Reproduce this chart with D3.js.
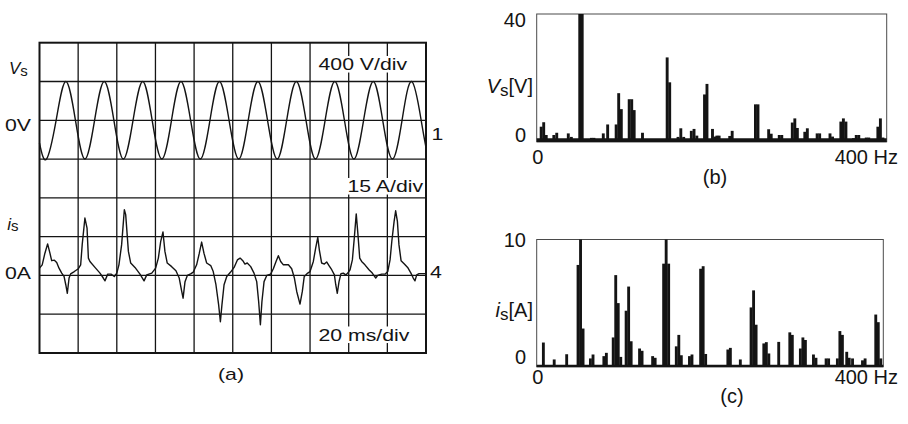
<!DOCTYPE html>
<html><head><meta charset="utf-8">
<script src="https://cdn.jsdelivr.net/npm/d3@7"></script>
<style>
body{margin:0;background:#fff}
svg{display:block}
text{font-family:"Liberation Sans",Arial,Helvetica,sans-serif}
</style>
</head><body>
<svg id="chart" width="908" height="424"></svg>
<script>
// ---------- DATA ----------
const gridTimes = [0,20,40,60,80,100,120,140,160,180,200];   // ms, 20 ms/div
const gridDivs  = [0,1,2,3,4,5,6,7,8];

// Supply voltage Vs (V) read at peaks, troughs and zero crossings
const voltTimes  = [0,3.6,8.6,13.6,18.6,23.5,28.5,33.5,38.5,43.4,48.4,53.4,58.3,63.3,68.3,73.2,78.2,83.2,88.2,93.1,98.1,103.1,108.0,113.0,118.0,123.0,127.9,132.9,137.9,142.8,147.8,152.8,157.8,162.7,167.7,172.7,177.6,182.6,187.6,192.6,197.5,200];
const voltValues = [-235,-400,0,400,0,-400,0,400,0,-400,0,400,0,-400,0,400,0,-400,0,400,0,-400,0,400,0,-400,0,400,0,-400,0,400,0,-400,0,400,0,-400,0,400,0,-283];

// Supply current is (A), [ms, A]
const currentTrace = [[0,2.8],[1.4,4.1],[2.8,8.6],[4.2,12.2],[5.4,8.6],[6.3,5.7],[7.7,5.9],[8.9,5.0],[10.1,2.8],[11.5,0.9],[12.7,-0.4],[13.6,-3.6],[14.4,-6.9],[15.3,-1.0],[16.1,0.6],[18.0,1.5],[20.1,2.6],[21.3,4.1],[22.1,11.9],[23.5,22.2],[24.6,18.3],[25.3,6.7],[26.1,5.4],[28.7,3.1],[31.3,0.9],[33.0,-1.0],[33.9,-2.1],[35.3,0.5],[37.0,0.5],[38.7,-0.4],[40.0,0.9],[41.1,4.1],[42.5,11.9],[43.9,25.4],[44.6,23.5],[46.0,9.3],[47.2,4.8],[49.4,3.1],[52.0,0.5],[54.1,-2.1],[55.5,0.2],[58.1,0.9],[60.1,2.8],[61.5,6.7],[62.7,13.1],[63.9,16.8],[64.9,9.3],[66.1,4.8],[68.4,3.4],[70.6,1.8],[72.3,-1.0],[73.6,-6.2],[74.3,-8.8],[75.3,-2.4],[76.5,0.0],[78.2,0.6],[79.6,1.3],[81.3,4.1],[82.7,8.6],[83.9,12.9],[85.1,8.6],[86.5,4.8],[88.6,3.8],[89.9,1.5],[91.3,-3.6],[92.7,-11.4],[93.6,-17.9],[94.4,-11.4],[95.5,-3.6],[96.9,-0.4],[98.9,1.3],[100.7,3.1],[102.4,6.0],[103.8,6.7],[105.2,5.7],[106.3,4.4],[107.5,4.8],[109.3,3.4],[111.0,0.9],[112.4,-2.4],[113.4,-10.1],[114.3,-19.1],[115.1,-10.1],[116.2,-2.4],[117.6,0.0],[119.6,0.5],[121.0,2.6],[122.4,5.4],[123.6,7.6],[124.8,5.4],[126.2,4.1],[128.8,4.1],[130.5,2.6],[131.9,-1.0],[133.1,-6.2],[134.8,-11.1],[136.0,-6.2],[137.0,-0.4],[138.8,0.9],[140.0,1.5],[141.7,5.4],[142.9,10.6],[144.0,14.7],[144.8,9.9],[146.0,4.8],[147.4,4.4],[148.6,5.2],[149.8,3.8],[151.2,2.2],[152.6,0.2],[153.3,-3.6],[154.1,-6.9],[155.0,-2.4],[156.0,0.7],[157.2,0.9],[158.5,0.2],[159.5,0.9],[160.7,2.2],[161.9,6.0],[162.9,14.5],[163.9,23.8],[164.8,15.7],[165.7,6.7],[166.7,5.4],[168.4,4.1],[170.5,2.2],[172.2,0.9],[174.0,-1.0],[175.0,0.0],[177.1,0.5],[178.8,0.5],[180.2,1.5],[181.4,6.0],[182.3,13.1],[183.5,20.9],[184.3,25.0],[185.2,20.9],[186.0,11.9],[187.1,5.7],[188.8,4.4],[190.5,3.1],[192.2,0.9],[193.4,-1.0],[194.3,-2.1],[195.2,0.2],[196.4,0.7],[198.6,0.7],[200,0.7]];

// Spectrum of Vs (b)
const specVFreq = [5.1,8.0,10.9,19.6,22.9,36.1,39.6,49.2,52.0,62.5,65.4,76.1,81.1,90.8,93.7,96.7,105.7,108.6,111.4,120.9,149.1,152.0,161.5,164.7,168.0,176.7,179.8,183.0,191.8,194.6,200.9,203.8,205.9,208.5,220.6,223.4,250.0,252.9,265.1,268.0,277.2,280.1,292.1,295.0,297.9,306.4,309.3,320.5,323.4,335.2,338.1,347.6,350.5,353.4,362.0,365.2,368.1,376.6,379.5,389.9,392.8,395.7];
const specVAmp  = [4.7,6.1,2.1,2.1,2.8,2.6,1.5,40,40,1.2,1.2,2.6,5.4,5.4,15.2,10.2,13.3,13.3,9.9,2.8,26.4,18.6,1.5,4.2,1.5,3.4,4.0,1.9,14.8,18.1,4.0,1.6,1.9,1.9,1.8,3.4,11.7,11.7,3.9,2.5,2.1,2.1,6.0,7.3,4.3,3.1,4.2,2.6,2.6,2.6,1.6,6.3,7.3,6.3,1.1,2.1,2.1,1.3,1.3,4.7,7.3,1.3];

// Spectrum of is (c)
const specIFreq = [7.7,20.2,34.6,47.7,50.6,53.5,62.0,65.0,77.5,80.4,88.3,91.2,94.1,97.0,103.2,106.1,109.0,118.7,121.6,133.8,136.7,146.5,149.4,152.3,161.1,164.0,166.9,176.3,179.2,189.2,192.1,195.0,220.6,223.5,235.0,247.4,250.3,253.2,262.1,265.0,267.9,279.3,292.1,295.0,304.3,307.2,310.1,319.4,322.3,334.0,336.9,347.0,349.9,352.8,357.8,360.7,364.5,376.0,379.0,391.3,394.2,397.1];
const specIAmp  = [1.9,0.57,0.98,8.0,10,3.0,0.65,0.96,0.83,1.09,2.3,7.2,5.0,0.77,4.4,6.3,2.0,1.43,1.25,0.83,0.7,8.1,10,8.1,1.6,2.5,0.9,0.83,0.96,7.7,7.9,1.0,1.35,1.48,0.57,4.66,6.0,3.3,1.83,1.93,1.04,1.95,2.7,2.5,1.43,2.3,2.1,0.96,0.7,0.65,0.65,0.65,2.8,2.5,1.17,0.7,0.65,0.5,0.65,4.1,3.5,0.65];

const vTicks = [0,40];
const iTicks = [0,10];
const freqTicks = [0,400];
const binWidth = 3.3; // Hz

// ---------- DRAW ----------
const svg = d3.select('#chart');
const ink = '#141414';

// Panel (a): oscilloscope
const xA = d3.scaleLinear().domain([0,200]).range([39.5,426]);
const yDiv = d3.scaleLinear().domain([0,8]).range([353,42.7]);
const yV = d3.scaleLinear().domain([-2400,800]).range([353,42.7]);
const yI = d3.scaleLinear().domain([-30,90]).range([353,42.7]);

const gA = svg.append('g');
gA.selectAll('line.gv').data(gridTimes.slice(1,-1)).join('line').attr('class','gv')
  .attr('x1',d=>xA(d)).attr('x2',d=>xA(d)).attr('y1',yDiv(0)).attr('y2',yDiv(8))
  .attr('stroke',ink).attr('stroke-width',1.3);
gA.selectAll('line.gh').data(gridDivs.slice(1,-1)).join('line').attr('class','gh')
  .attr('y1',d=>yDiv(d)).attr('y2',d=>yDiv(d)).attr('x1',xA(0)).attr('x2',xA(200))
  .attr('stroke',ink).attr('stroke-width',1.3);
gA.append('rect').attr('x',xA(0)).attr('y',yDiv(8)).attr('width',xA(200)-xA(0)).attr('height',yDiv(0)-yDiv(8))
  .attr('fill','none').attr('stroke',ink).attr('stroke-width',2);

const voltData = voltTimes.map((t,i)=>[t,voltValues[i]]);
gA.append('path').datum(voltData)
  .attr('d', d3.line().x(d=>xA(d[0])).y(d=>yV(d[1])).curve(d3.curveNatural))
  .attr('fill','none').attr('stroke',ink).attr('stroke-width',1.4);
gA.append('path').datum(currentTrace)
  .attr('d', d3.line().x(d=>xA(d[0])).y(d=>yI(d[1])))
  .attr('fill','none').attr('stroke',ink).attr('stroke-width',1.4).attr('stroke-linejoin','round');

function wideText(x, y, str, anchor, bg) {
  const g = svg.append('g').attr('transform', `translate(${x},${y}) scale(1.25,1)`);
  const t = g.append('text').attr('text-anchor', anchor||'start').attr('font-size',17).attr('fill',ink).text(str);
  if (bg) {
    const b = t.node().getBBox();
    g.insert('rect','text').attr('x',b.x-1).attr('y',b.y+1).attr('width',b.width+2).attr('height',b.height-2).attr('fill','#fff');
  }
}
wideText(5, yV(0)+10.6, '0V');
wideText(5, yI(0)+3.8, '0A');
wideText(431.5, yV(0)+20, '1');
wideText(430, yI(0)+2.8, '4');
wideText(318.5, 70, '400 V/div', 'start', true);
wideText(347.5, 192, '15 A/div', 'start', true);
wideText(318.5, 340.5, '20 ms/div', 'start', true);
wideText(231, 380, '(a)', 'middle');

const vsA = svg.append('text').attr('x',9).attr('y',73.5).attr('fill',ink).attr('font-size',17);
vsA.append('tspan').attr('font-style','italic').text('V');
vsA.append('tspan').attr('font-size',15).attr('dy',2).text('s');
const isA = svg.append('text').attr('x',7.3).attr('y',230).attr('fill',ink).attr('font-size',17);
isA.append('tspan').attr('font-style','italic').text('i');
isA.append('tspan').attr('font-size',15).attr('dy',1).text('s');

// Spectrum panels
function spectrum(xs, ys, freqs, amps, ticks, topOffset, botOffset, baseW, sym, unit, labY, xLabY, capX, capY) {
  const g = svg.append('g');
  const maxV = ys.domain()[1];
  g.append('rect').attr('x',xs(0)).attr('y',ys(maxV)).attr('width',xs(400)-xs(0)).attr('height',ys(0)-ys(maxV))
    .attr('fill','none').attr('stroke','#4a4a4a').attr('stroke-width',1);
  const data = freqs.map((f,i)=>({f, a: amps[i]}));
  g.selectAll('rect.bar').data(data).join('rect').attr('class','bar')
    .attr('x', d=>xs(d.f - binWidth/2)).attr('width', xs(binWidth)-xs(0))
    .attr('y', d=>ys(Math.min(d.a,maxV))).attr('height', d=>ys(0)-ys(Math.min(d.a,maxV)))
    .attr('fill', ink);
  g.append('line').attr('x1',xs(0)).attr('x2',xs(400)).attr('y1',ys(0)-baseW/2+0.5).attr('y2',ys(0)-baseW/2+0.5)
    .attr('stroke',ink).attr('stroke-width',baseW);
  // y tick labels
  g.selectAll('text.yt').data(ticks).join('text').attr('class','yt')
    .attr('x', 526).attr('y', d=> d===0 ? ys(d)+botOffset : ys(d)+topOffset)
    .attr('text-anchor','end').attr('font-size',20).attr('fill',ink).text(d=>d);
  // x tick labels
  g.selectAll('text.xt').data(freqTicks).join('text').attr('class','xt')
    .attr('x', d=> d===0 ? xs(d)+1 : 898).attr('y', xLabY)
    .attr('text-anchor', d=> d===0 ? 'middle' : 'end').attr('font-size',20).attr('fill',ink)
    .text(d=> d===0 ? '0' : d + ' Hz');
  // axis label
  const lab = g.append('text').attr('x',533).attr('y',labY).attr('text-anchor','end').attr('font-size',20).attr('fill',ink);
  lab.append('tspan').attr('font-style','italic').text(sym);
  lab.append('tspan').attr('font-size',17).attr('dy',3).text('s');
  lab.append('tspan').attr('dy',-3).text('[' + unit + ']');
  g.append('text').attr('x',capX).attr('y',capY).attr('text-anchor','middle').attr('font-size',20).attr('fill',ink)
    .text(sym === 'V' ? '(b)' : '(c)');
}

const xB = d3.scaleLinear().domain([0,400]).range([536.7,886.7]);
const yB = d3.scaleLinear().domain([0,40]).range([141.7,14]);
spectrum(xB, yB, specVFreq, specVAmp, vTicks, 13, 0.5, 4, 'V', 'V', 93, 163.5, 715, 184);

const xC = d3.scaleLinear().domain([0,400]).range([536.7,883.3]);
const yC = d3.scaleLinear().domain([0,10]).range([366.7,239.5]);
spectrum(xC, yC, specIFreq, specIAmp, iTicks, 7.3, -2.5, 2.5, 'i', 'A', 317, 383.5, 732, 403);
</script>
</body></html>
